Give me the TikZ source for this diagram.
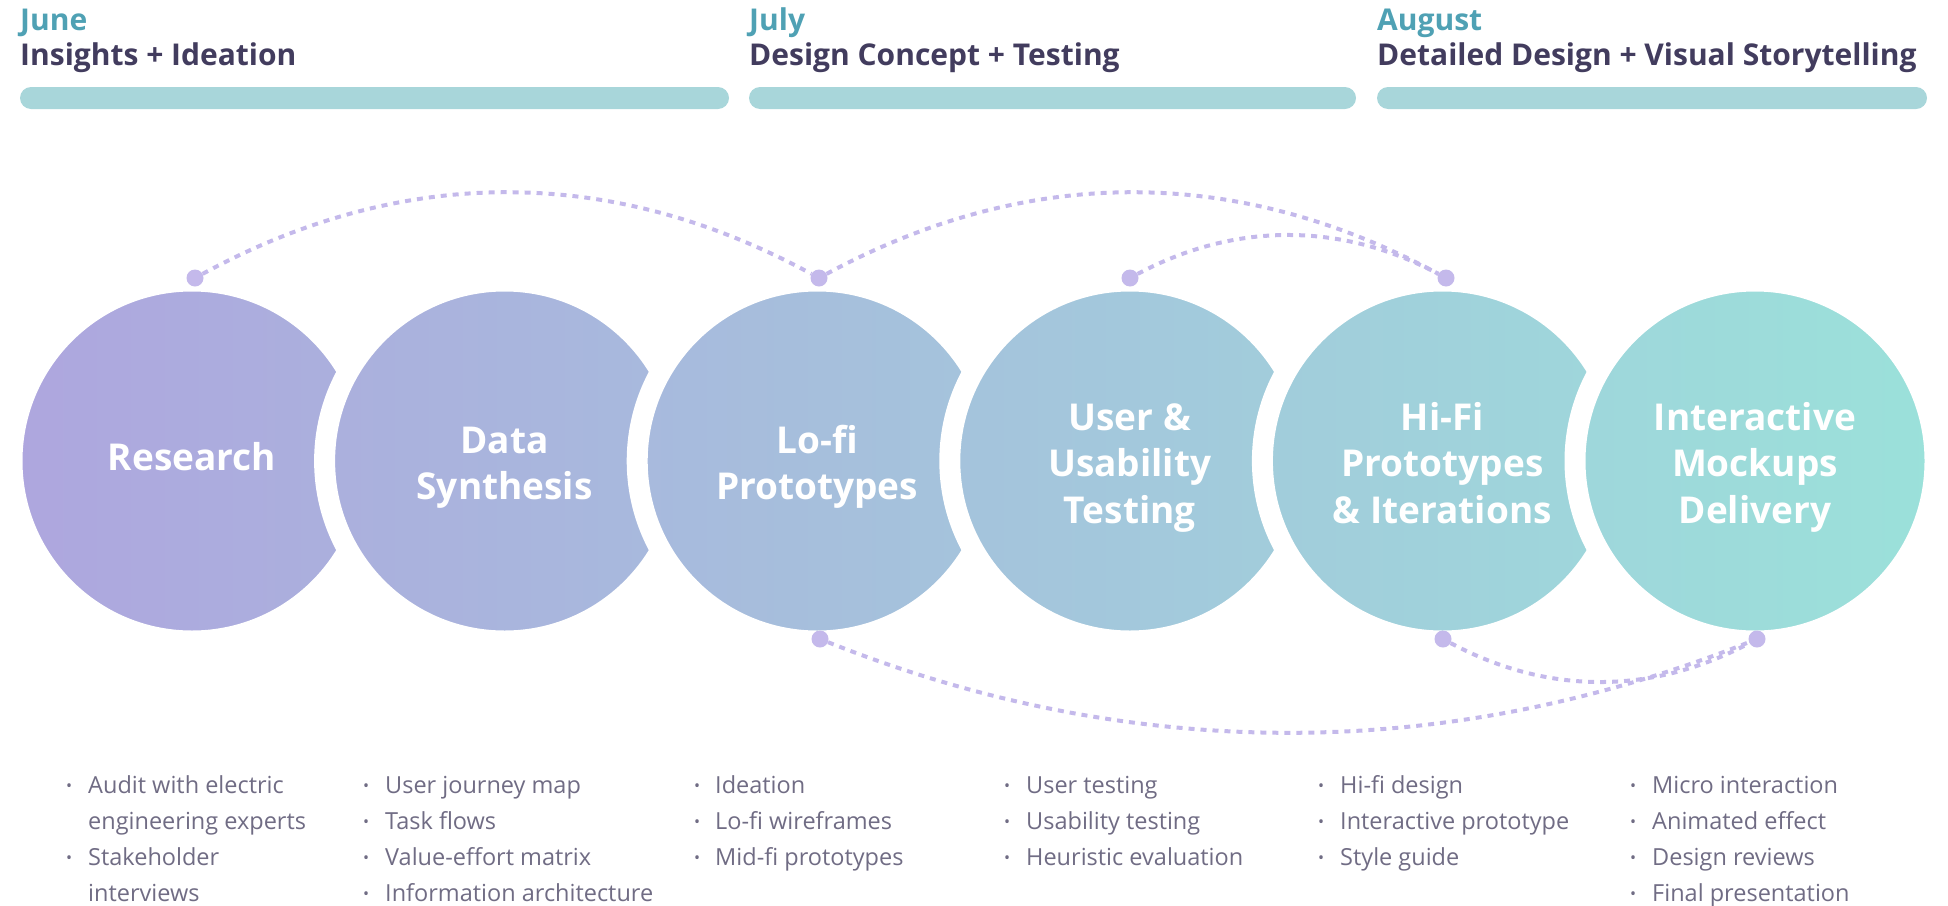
\documentclass[tikz,border=0pt]{standalone}
\usepackage{fontspec}
\setmainfont{Open Sans}
\usetikzlibrary{calc}
\definecolor{startc}{RGB}{174,166,222}
\definecolor{endc}{RGB}{155,225,218}
\definecolor{monthc}{RGB}{79,161,180}
\definecolor{titlec}{RGB}{66,60,94}
\definecolor{barc}{RGB}{168,214,218}
\definecolor{bodyc}{RGB}{112,108,132}
\definecolor{arcc}{RGB}{196,185,235}
\newcommand{\bulletmark}{\makebox[0pt]{\raisebox{1.5pt}{\fontsize{16}{16}\selectfont •}}}
\begin{document}
\begin{tikzpicture}[x=1pt,y=-1pt,
  monthlabel/.style={anchor=base west, inner sep=0, text=monthc, font=\fontsize{30}{30}\selectfont\bfseries},
  phaselabel/.style={anchor=base west, inner sep=0, text=titlec, font=\fontsize{30}{30}\selectfont\bfseries},
  phasebar/.style={fill=barc, rounded corners=11pt},
  stage/.style={circle, minimum size=360pt, inner sep=0, draw=white, line width=21pt},
  stagetext/.style={anchor=base, inner sep=0, text=white, font=\fontsize{37}{46.5}\selectfont\bfseries},
  dot/.style={circle, fill=arcc, minimum size=17pt, inner sep=0},
  arcline/.style={draw=arcc, line width=4pt, dash pattern=on 6pt off 6pt},
  itemlist/.style={anchor=base west, inner sep=0, text=bodyc, font=\fontsize{23.5}{36}\selectfont}
]
\useasboundingbox (0,0) rectangle (1948,905);

% headers
\node[monthlabel] (m1) at (20,30) {June};
\node[phaselabel] (p1) at (20,65) {Insights + Ideation};
\fill[phasebar] (20,87) rectangle (729,109);
\node[monthlabel] (m2) at (749,30) {July};
\node[phaselabel] (p2) at (749,65) {Design Concept + Testing};
\fill[phasebar] (749,87) rectangle (1356,109);
\node[monthlabel] (m3) at (1377,30) {August};
\node[phaselabel] (p3) at (1377,65) {Detailed Design + Visual Storytelling};
\fill[phasebar] (1377,87) rectangle (1927,109);

% stages
\node[stage, left color=startc, right color=endc!18!startc] (s1) at (192,461) {};
\node[stage, left color=endc!16!startc, right color=endc!34!startc] (s2) at (504.6,461) {};
\node[stage, left color=endc!33!startc, right color=endc!51!startc] (s3) at (817.2,461) {};
\node[stage, left color=endc!49!startc, right color=endc!67!startc] (s4) at (1129.8,461) {};
\node[stage, left color=endc!65!startc, right color=endc!83!startc] (s5) at (1442.4,461) {};
\node[stage, left color=endc!82!startc, right color=endc] (s6) at (1755,461) {};

\node[stagetext] (t1) at (192,470) {\begin{tabular}[t]{@{}c@{}}Research\end{tabular}};
\node[stagetext] (t2) at (504.6,453) {\begin{tabular}[t]{@{}c@{}}Data\\Synthesis\end{tabular}};
\node[stagetext] (t3) at (817.2,453) {\begin{tabular}[t]{@{}c@{}}Lo-fi\\Prototypes\end{tabular}};
\node[stagetext] (t4) at (1129.8,430) {\begin{tabular}[t]{@{}c@{}}User \&\\Usability\\Testing\end{tabular}};
\node[stagetext] (t5) at (1442.4,430) {\begin{tabular}[t]{@{}c@{}}Hi-Fi\\Prototypes\\\& Iterations\end{tabular}};
\node[stagetext] (t6) at (1755,430) {\begin{tabular}[t]{@{}c@{}}Interactive\\Mockups\\Delivery\end{tabular}};

% dots
\node[dot] (d1t) at (195,278) {};
\node[dot] (d3t) at (819,278) {};
\node[dot] (d4t) at (1130,278) {};
\node[dot] (d5t) at (1446,278) {};
\node[dot] (d3b) at (820,639) {};
\node[dot] (d5b) at (1443,639) {};
\node[dot] (d6b) at (1757,639) {};

% arcs
\draw[arcline] (d1t) .. controls +(208,-113) and +(-208,-113) .. (d3t);
\draw[arcline] (d3t) .. controls +(209,-113) and +(-209,-113) .. (d5t);
\draw[arcline] (d4t) .. controls +(105,-56) and +(-105,-56) .. (d5t);
\draw[arcline] (d3b) .. controls +(312,124) and +(-312,124) .. (d6b);
\draw[arcline] (d5b) .. controls +(105,56) and +(-105,56) .. (d6b);

% lists
\node[itemlist] (l1) at (69,793) {\begin{tabular}[t]{@{}c@{\hspace{19pt}}l@{}}
\bulletmark & Audit with electric\\ & engineering experts\\ \bulletmark & Stakeholder\\ & interviews\end{tabular}};
\node[itemlist] (l2) at (366,793) {\begin{tabular}[t]{@{}c@{\hspace{19pt}}l@{}}
\bulletmark & User journey map\\ \bulletmark & Task flows\\ \bulletmark & Value-effort matrix\\ \bulletmark & Information architecture\end{tabular}};
\node[itemlist] (l3) at (697,793) {\begin{tabular}[t]{@{}c@{\hspace{18pt}}l@{}}
\bulletmark & Ideation\\ \bulletmark & Lo-fi wireframes\\ \bulletmark & Mid-fi prototypes\end{tabular}};
\node[itemlist] (l4) at (1007,793) {\begin{tabular}[t]{@{}c@{\hspace{19pt}}l@{}}
\bulletmark & User testing\\ \bulletmark & Usability testing\\ \bulletmark & Heuristic evaluation\end{tabular}};
\node[itemlist] (l5) at (1321,793) {\begin{tabular}[t]{@{}c@{\hspace{19pt}}l@{}}
\bulletmark & Hi-fi design\\ \bulletmark & Interactive prototype\\ \bulletmark & Style guide\end{tabular}};
\node[itemlist] (l6) at (1633,793) {\begin{tabular}[t]{@{}c@{\hspace{19pt}}l@{}}
\bulletmark & Micro interaction\\ \bulletmark & Animated effect\\ \bulletmark & Design reviews\\ \bulletmark & Final presentation\end{tabular}};
\end{tikzpicture}
\end{document}
